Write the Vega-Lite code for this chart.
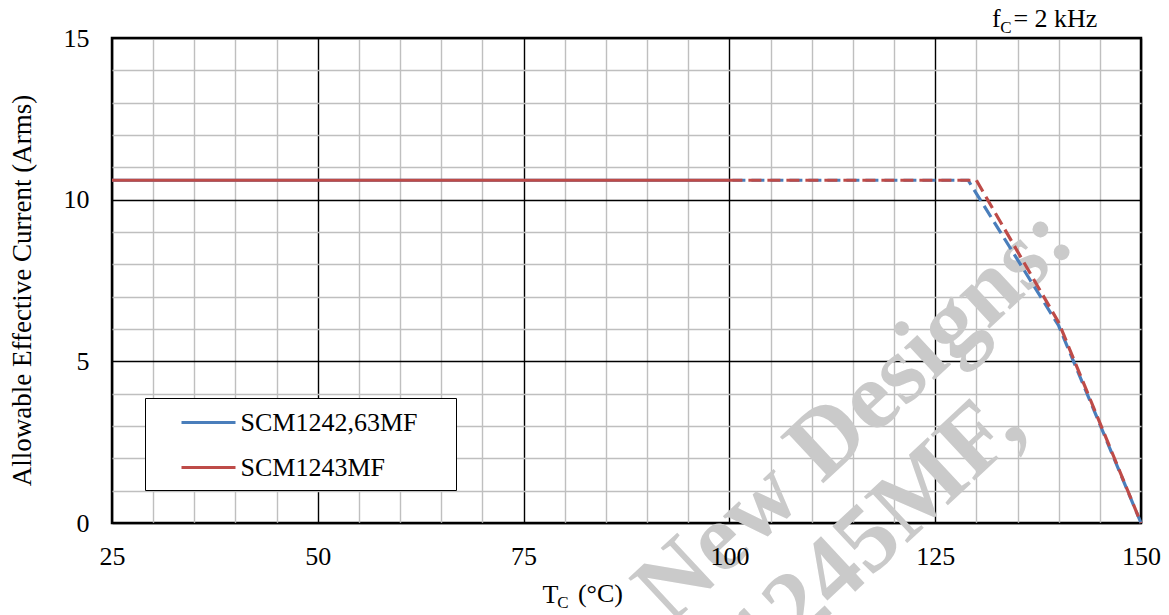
{
  "$schema": "https://vega.github.io/schema/vega-lite/v6.json",
  "width": 1029,
  "height": 485,
  "autosize": {"type": "none"},
  "padding": {"left": 112, "top": 38, "right": 28, "bottom": 92},
  "background": "white",
  "config": {
    "view": {"stroke": "black", "strokeWidth": 2.5},
    "font": "Liberation Serif",
    "text": {"font": "Liberation Serif"}
  },
  "data": {
    "values": [
      {"series": "SCM1242,63MF", "style": "solid", "T": 25, "I": 10.6},
      {"series": "SCM1242,63MF", "style": "solid", "T": 100, "I": 10.6},
      {"series": "SCM1242,63MF", "style": "dashB", "T": 100, "I": 10.6},
      {"series": "SCM1242,63MF", "style": "dashB", "T": 129, "I": 10.6},
      {"series": "SCM1242,63MF", "style": "dashB", "T": 140, "I": 6.1},
      {"series": "SCM1242,63MF", "style": "dashB", "T": 150, "I": 0},
      {"series": "SCM1243MF", "style": "solid", "T": 25, "I": 10.6},
      {"series": "SCM1243MF", "style": "solid", "T": 100, "I": 10.6},
      {"series": "SCM1243MF", "style": "dashR", "T": 100, "I": 10.6},
      {"series": "SCM1243MF", "style": "dashR", "T": 130, "I": 10.6},
      {"series": "SCM1243MF", "style": "dashR", "T": 140, "I": 6.2},
      {"series": "SCM1243MF", "style": "dashR", "T": 150, "I": 0}
    ]
  },
  "resolve": {"axis": {"x": "independent"}},
  "layer": [
    {
      "encoding": {
        "x": {
          "type": "quantitative",
          "scale": {"domain": [25, 150], "nice": false, "zero": false},
          "axis": {
            "orient": "bottom",
            "values": [25, 30, 35, 40, 45, 50, 55, 60, 65, 70, 75, 80, 85, 90, 95, 100, 105, 110, 115, 120, 125, 130, 135, 140, 145, 150],
            "labels": false,
            "grid": true,
            "gridColor": {"condition": {"test": "datum.value % 25 === 0", "value": "#000000"}, "value": "#bfbfbf"},
            "gridWidth": 1.4,
            "ticks": false, "tickSize": 0, "domain": false,
            "title": null
          }
        },
        "y": {
          "type": "quantitative",
          "scale": {"domain": [0, 15], "nice": false},
          "axis": {
            "values": [0, 1, 2, 3, 4, 5, 6, 7, 8, 9, 10, 11, 12, 13, 14, 15],
            "labelExpr": "datum.value % 5 === 0 ? datum.label : ''",
            "grid": true,
            "gridColor": {"condition": {"test": "datum.value % 5 === 0", "value": "#000000"}, "value": "#bfbfbf"},
            "gridWidth": 1.4,
            "ticks": false, "tickSize": 0, "domain": false,
            "labelFont": "Liberation Serif", "labelFontSize": 26, "labelColor": "black",
            "labelPadding": 23, "labelOverlap": false, "labelFlush": false,
            "title": "Allowable Effective Current (Arms)",
            "titleFont": "Liberation Serif", "titleFontSize": 27, "titleFontWeight": "normal", "titleColor": "black",
            "titleAngle": 270, "titleX": -82, "titleY": 252, "titleAlign": "center", "titleBaseline": "alphabetic"
          }
        }
      },
      "layer": [
        {
          "data": {"values": [{}]},
          "mark": {"type": "text", "text": "New Designs:", "fontWeight": "bold", "fontSize": 97, "angle": 317, "align": "center", "baseline": "middle", "color": "#cacaca"},
          "encoding": {
            "x": {"datum": 115.2, "type": "quantitative"},
            "y": {"datum": 3.35, "type": "quantitative"}
          }
        },
        {
          "data": {"values": [{}]},
          "mark": {"type": "text", "text": "SCM1245MF,", "fontWeight": "bold", "fontSize": 97, "angle": 317, "align": "right", "baseline": "middle", "color": "#cacaca"},
          "encoding": {
            "x": {"datum": 133.8, "type": "quantitative"},
            "y": {"datum": 3.5, "type": "quantitative"}
          }
        },
        {
          "transform": [{"filter": "datum.series === 'SCM1242,63MF'"}],
          "mark": {"type": "line", "strokeWidth": 3.2},
          "encoding": {
            "x": {"field": "T", "type": "quantitative"},
            "y": {"field": "I", "type": "quantitative"},
            "color": {
              "field": "series", "type": "nominal",
              "scale": {"domain": ["SCM1242,63MF", "SCM1243MF"], "range": ["#4a7ebb", "#be4b48"]},
              "legend": {
                "title": " ", "titleOrient": "right", "titlePadding": 29, "titleFontSize": 26,
                "orient": "none", "legendX": 33, "legendY": 360,
                "padding": 9.5, "strokeColor": "black", "fillColor": "white", "cornerRadius": 0,
                "symbolType": "M-2,0H2", "symbolSize": 729, "symbolStrokeWidth": 3, "symbolOffset": 39,
                "labelOffset": 17, "labelFont": "Liberation Serif", "labelFontSize": 26, "labelColor": "black",
                "labelLimit": 600, "rowPadding": 17
              }
            },
            "strokeDash": {
              "field": "style", "type": "nominal",
              "scale": {"domain": ["solid", "dashR", "dashB"], "range": [[1, 0], [13, 6], [0, 3, 13, 3]]},
              "legend": null
            }
          }
        },
        {
          "data": {"values": [{}]},
          "mark": {"type": "text", "text": "C", "fontSize": 17, "align": "left", "baseline": "alphabetic", "color": "black"},
          "encoding": {
            "x": {"datum": 79.1, "type": "quantitative"},
            "y": {"datum": -2.64, "type": "quantitative"}
          }
        },
        {
          "data": {"values": [{}]},
          "mark": {"type": "text", "text": "(°C)", "fontSize": 26, "align": "left", "baseline": "alphabetic", "color": "black"},
          "encoding": {
            "x": {"datum": 81.6, "type": "quantitative"},
            "y": {"datum": -2.44, "type": "quantitative"}
          }
        },
        {
          "data": {"values": [{}]},
          "mark": {"type": "text", "text": "f", "fontSize": 26, "align": "left", "baseline": "alphabetic", "color": "black"},
          "encoding": {
            "x": {"datum": 131.9, "type": "quantitative"},
            "y": {"datum": 15.35, "type": "quantitative"}
          }
        },
        {
          "data": {"values": [{}]},
          "mark": {"type": "text", "text": "C", "fontSize": 17, "align": "left", "baseline": "alphabetic", "color": "black"},
          "encoding": {
            "x": {"datum": 132.9, "type": "quantitative"},
            "y": {"datum": 15.15, "type": "quantitative"}
          }
        },
        {
          "data": {"values": [{}]},
          "mark": {"type": "text", "text": "= 2 kHz", "fontSize": 26, "align": "left", "baseline": "alphabetic", "color": "black"},
          "encoding": {
            "x": {"datum": 134.5, "type": "quantitative"},
            "y": {"datum": 15.35, "type": "quantitative"}
          }
        }
      ]
    },
    {
      "transform": [{"filter": "datum.series === 'SCM1243MF'"}],
      "mark": {"type": "line", "strokeWidth": 3.2},
      "encoding": {
        "x": {
          "field": "T", "type": "quantitative",
          "scale": {"domain": [25, 150], "nice": false, "zero": false},
          "axis": {
            "orient": "bottom",
            "values": [25, 50, 75, 100, 125, 150],
            "grid": false, "zindex": 1,
            "ticks": false, "tickSize": 0, "domain": false,
            "labelFont": "Liberation Serif", "labelFontSize": 26, "labelColor": "black",
            "labelPadding": 20, "labelOverlap": false, "labelFlush": false,
            "title": "T",
            "titleFont": "Liberation Serif", "titleFontSize": 26, "titleFontWeight": "normal", "titleColor": "black",
            "titleX": 430, "titleY": 79, "titleAlign": "left", "titleBaseline": "alphabetic"
          }
        },
        "y": {
          "field": "I", "type": "quantitative",
          "scale": {"domain": [0, 15], "nice": false},
          "axis": {
            "values": [0, 1, 2, 3, 4, 5, 6, 7, 8, 9, 10, 11, 12, 13, 14, 15],
            "labelExpr": "datum.value % 5 === 0 ? datum.label : ''",
            "grid": true,
            "gridColor": {"condition": {"test": "datum.value % 5 === 0", "value": "#000000"}, "value": "#bfbfbf"},
            "gridWidth": 1.4,
            "ticks": false, "tickSize": 0, "domain": false,
            "labelFont": "Liberation Serif", "labelFontSize": 26, "labelColor": "black",
            "labelPadding": 23, "labelOverlap": false, "labelFlush": false,
            "title": "Allowable Effective Current (Arms)",
            "titleFont": "Liberation Serif", "titleFontSize": 27, "titleFontWeight": "normal", "titleColor": "black",
            "titleAngle": 270, "titleX": -82, "titleY": 252, "titleAlign": "center", "titleBaseline": "alphabetic"
          }
        },
        "color": {"field": "series", "type": "nominal"},
        "strokeDash": {"field": "style", "type": "nominal", "legend": null}
      }
    }
  ]
}
